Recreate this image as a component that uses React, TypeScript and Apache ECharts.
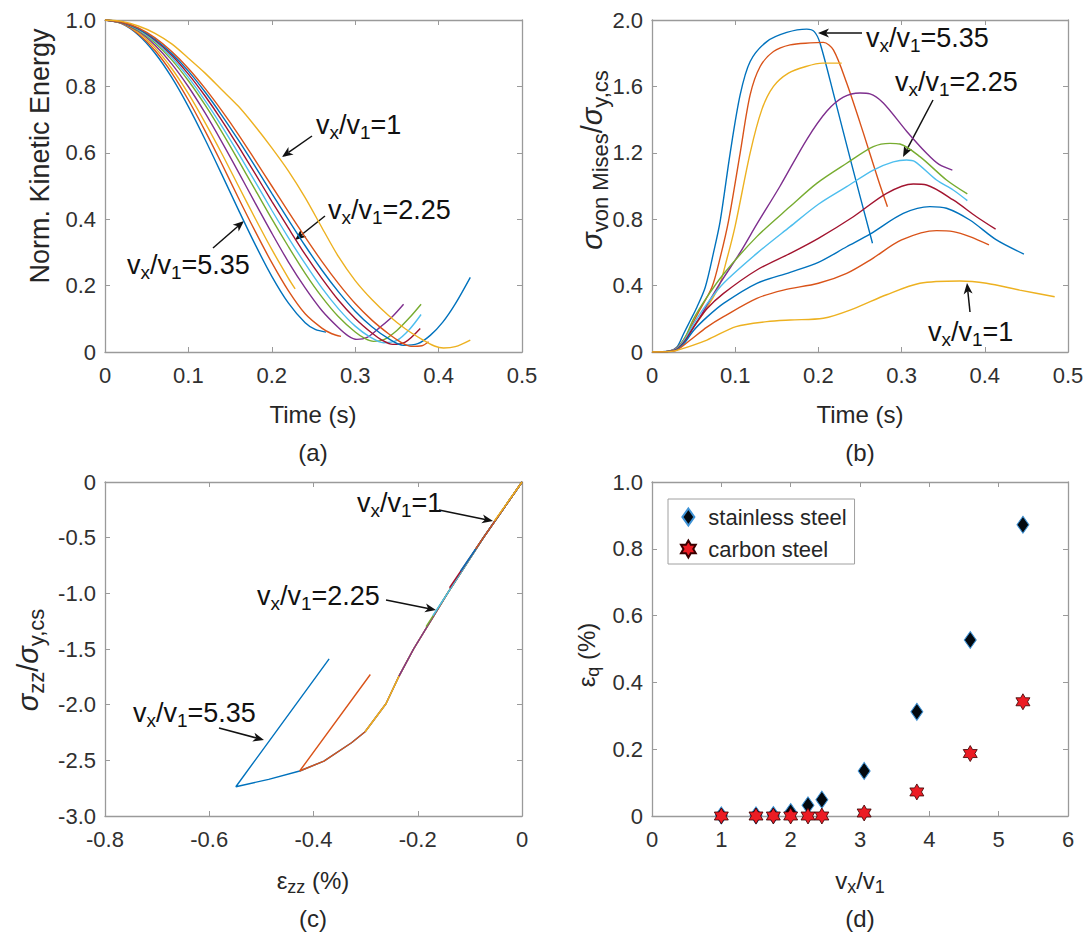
import React, { useEffect, useRef } from 'react';
import * as echarts from 'echarts';

const FONT = "'Liberation Sans', Arial, Helvetica, sans-serif";
const TXT = '#262626';
const AXIS = '#9a9a9a';

// v_x / v_1 ratios, in plotting order, and MATLAB default line colours
const ratios = [5.35, 4.6, 3.82, 3.07, 2.45, 2.25, 2.0, 1.75, 1.5, 1.0];
const colors = ['#0072BD', '#D95319', '#EDB120', '#7E2F8E', '#77AC30', '#4DBEEE', '#A2142F', '#0072BD', '#D95319', '#EDB120'];

// (a) normalised kinetic energy vs time [t (s), KE]
const ke535 = [[0, 1], [0.02, 0.989], [0.04, 0.955], [0.06, 0.9], [0.08, 0.827], [0.1, 0.739], [0.12, 0.64], [0.14, 0.535], [0.16, 0.428], [0.18, 0.324], [0.2, 0.228], [0.22, 0.147], [0.24, 0.088], [0.252, 0.068], [0.265, 0.06]];
const ke460 = [[0, 1], [0.02, 0.99], [0.04, 0.958], [0.06, 0.908], [0.08, 0.841], [0.1, 0.759], [0.12, 0.666], [0.14, 0.567], [0.16, 0.464], [0.18, 0.364], [0.2, 0.269], [0.22, 0.184], [0.24, 0.115], [0.26, 0.072], [0.272, 0.055], [0.283, 0.047]];
const ke382 = [[0, 1], [0.02, 0.99], [0.04, 0.962], [0.06, 0.916], [0.08, 0.854], [0.1, 0.778], [0.12, 0.691], [0.14, 0.598], [0.16, 0.5], [0.18, 0.403], [0.2, 0.309], [0.22, 0.222], [0.228, 0.19]];
const ke307 = [[0, 1], [0.02, 0.991], [0.04, 0.966], [0.06, 0.924], [0.08, 0.868], [0.1, 0.799], [0.12, 0.72], [0.14, 0.633], [0.16, 0.542], [0.18, 0.449], [0.2, 0.358], [0.22, 0.271], [0.24, 0.193], [0.26, 0.125], [0.28, 0.073], [0.292, 0.048], [0.302, 0.038], [0.315, 0.045], [0.33, 0.075], [0.345, 0.108], [0.358, 0.144]];
const ke245 = [[0, 1], [0.02, 0.992], [0.04, 0.969], [0.06, 0.931], [0.08, 0.88], [0.1, 0.817], [0.12, 0.744], [0.14, 0.663], [0.16, 0.577], [0.18, 0.489], [0.2, 0.401], [0.22, 0.317], [0.24, 0.237], [0.26, 0.166], [0.28, 0.106], [0.3, 0.06], [0.312, 0.04], [0.322, 0.032], [0.335, 0.038], [0.35, 0.065], [0.365, 0.103], [0.379, 0.144]];
const ke225 = [[0, 1], [0.02, 0.993], [0.04, 0.971], [0.06, 0.935], [0.08, 0.887], [0.1, 0.827], [0.12, 0.757], [0.14, 0.68], [0.16, 0.598], [0.18, 0.513], [0.2, 0.427], [0.22, 0.344], [0.24, 0.266], [0.26, 0.193], [0.28, 0.13], [0.3, 0.078], [0.318, 0.045], [0.334, 0.028], [0.35, 0.035], [0.365, 0.068], [0.379, 0.113]];
const ke200 = [[0, 1], [0.02, 0.993], [0.04, 0.973], [0.06, 0.939], [0.08, 0.894], [0.1, 0.837], [0.12, 0.771], [0.14, 0.698], [0.16, 0.619], [0.18, 0.537], [0.2, 0.454], [0.22, 0.373], [0.24, 0.294], [0.26, 0.222], [0.28, 0.156], [0.3, 0.101], [0.32, 0.057], [0.332, 0.036], [0.345, 0.023], [0.36, 0.03], [0.378, 0.071]];
const ke175 = [[0, 1], [0.02, 0.994], [0.04, 0.974], [0.06, 0.942], [0.08, 0.899], [0.1, 0.846], [0.12, 0.783], [0.14, 0.713], [0.16, 0.638], [0.18, 0.559], [0.2, 0.478], [0.22, 0.398], [0.24, 0.32], [0.26, 0.247], [0.28, 0.181], [0.3, 0.123], [0.32, 0.076], [0.34, 0.04], [0.358, 0.02], [0.375, 0.025], [0.39, 0.05], [0.405, 0.09], [0.42, 0.145], [0.438, 0.225]];
const ke150 = [[0, 1], [0.02, 0.994], [0.04, 0.976], [0.06, 0.946], [0.08, 0.905], [0.1, 0.854], [0.12, 0.794], [0.14, 0.727], [0.16, 0.655], [0.18, 0.578], [0.2, 0.5], [0.22, 0.422], [0.24, 0.346], [0.26, 0.273], [0.28, 0.206], [0.3, 0.146], [0.32, 0.096], [0.34, 0.055], [0.355, 0.029], [0.367, 0.017], [0.38, 0.019], [0.388, 0.031]];
const ke100 = [[0, 1], [0.02, 0.996], [0.04, 0.982], [0.06, 0.96], [0.08, 0.928], [0.1, 0.885], [0.12, 0.84], [0.14, 0.79], [0.16, 0.74], [0.18, 0.68], [0.2, 0.615], [0.22, 0.545], [0.24, 0.465], [0.26, 0.375], [0.28, 0.287], [0.3, 0.215], [0.32, 0.158], [0.34, 0.11], [0.36, 0.07], [0.38, 0.038], [0.395, 0.018], [0.406, 0.012], [0.42, 0.016], [0.438, 0.036]];
const keCurves = [ke535, ke460, ke382, ke307, ke245, ke225, ke200, ke175, ke150, ke100];

// (b) von Mises stress / yield stress vs time [t (s), ratio]
const vm535 = [[0, 0], [0.02, 0.005], [0.03, 0.03], [0.038, 0.11], [0.046, 0.19], [0.054, 0.27], [0.064, 0.39], [0.074, 0.6], [0.082, 0.79], [0.094, 1.2], [0.106, 1.55], [0.118, 1.75], [0.138, 1.87], [0.162, 1.925], [0.186, 1.945], [0.195, 1.93], [0.202, 1.86], [0.22, 1.52], [0.24, 1.13], [0.265, 0.655]];
const vm460 = [[0, 0], [0.02, 0.004], [0.03, 0.025], [0.04, 0.09], [0.056, 0.24], [0.072, 0.39], [0.082, 0.57], [0.092, 0.79], [0.106, 1.2], [0.118, 1.55], [0.13, 1.72], [0.146, 1.81], [0.166, 1.85], [0.19, 1.862], [0.206, 1.865], [0.218, 1.82], [0.234, 1.62], [0.254, 1.32], [0.272, 1.036], [0.283, 0.875]];
const vm382 = [[0, 0], [0.02, 0.004], [0.03, 0.02], [0.04, 0.08], [0.06, 0.22], [0.08, 0.39], [0.09, 0.56], [0.1, 0.76], [0.118, 1.2], [0.132, 1.46], [0.146, 1.6], [0.164, 1.68], [0.185, 1.72], [0.205, 1.74], [0.228, 1.74]];
const vm307 = [[0, 0], [0.02, 0.004], [0.03, 0.02], [0.04, 0.07], [0.05, 0.15], [0.06, 0.23], [0.08, 0.4], [0.106, 0.6], [0.126, 0.77], [0.154, 1.0], [0.186, 1.28], [0.21, 1.45], [0.23, 1.535], [0.25, 1.56], [0.262, 1.555], [0.278, 1.5], [0.306, 1.33], [0.33, 1.197], [0.345, 1.13], [0.361, 1.096]];
const vm245 = [[0, 0], [0.02, 0.004], [0.03, 0.02], [0.04, 0.09], [0.05, 0.2], [0.066, 0.33], [0.086, 0.47], [0.126, 0.695], [0.166, 0.876], [0.198, 1.016], [0.234, 1.137], [0.266, 1.237], [0.286, 1.257], [0.298, 1.253], [0.322, 1.177], [0.354, 1.036], [0.379, 0.952]];
const vm225 = [[0, 0], [0.02, 0.004], [0.03, 0.02], [0.04, 0.08], [0.05, 0.17], [0.066, 0.29], [0.086, 0.414], [0.126, 0.594], [0.166, 0.755], [0.2, 0.89], [0.234, 0.996], [0.266, 1.096], [0.29, 1.145], [0.306, 1.157], [0.316, 1.147], [0.342, 1.036], [0.362, 0.976], [0.379, 0.912]];
const vm200 = [[0, 0], [0.02, 0.004], [0.03, 0.018], [0.04, 0.07], [0.05, 0.15], [0.066, 0.26], [0.086, 0.353], [0.126, 0.494], [0.166, 0.594], [0.2, 0.685], [0.242, 0.815], [0.282, 0.956], [0.314, 1.012], [0.33, 1.006], [0.362, 0.916], [0.39, 0.815], [0.413, 0.74]];
const vm175 = [[0, 0], [0.02, 0.003], [0.03, 0.015], [0.04, 0.06], [0.05, 0.13], [0.066, 0.21], [0.086, 0.293], [0.126, 0.414], [0.166, 0.48], [0.2, 0.54], [0.234, 0.634], [0.262, 0.71], [0.302, 0.835], [0.334, 0.876], [0.354, 0.866], [0.382, 0.795], [0.414, 0.675], [0.447, 0.59]];
const vm150 = [[0, 0], [0.02, 0.003], [0.03, 0.012], [0.046, 0.072], [0.066, 0.15], [0.086, 0.213], [0.126, 0.323], [0.158, 0.373], [0.2, 0.414], [0.234, 0.474], [0.264, 0.56], [0.3, 0.675], [0.342, 0.731], [0.362, 0.725], [0.382, 0.695], [0.405, 0.645]];
const vm100 = [[0, 0], [0.02, 0.002], [0.03, 0.01], [0.066, 0.072], [0.101, 0.153], [0.138, 0.183], [0.166, 0.193], [0.206, 0.203], [0.242, 0.26], [0.282, 0.345], [0.322, 0.414], [0.37, 0.428], [0.402, 0.414], [0.442, 0.373], [0.484, 0.333]];
const vmCurves = [vm535, vm460, vm382, vm307, vm245, vm225, vm200, vm175, vm150, vm100];

// (c) sigma_zz / sigma_y,cs vs eps_zz (%) [eps, sigma]
const sz535 = [[0, 0], [-0.074, -0.5], [-0.143, -1.0], [-0.208, -1.5], [-0.236, -1.744], [-0.261, -1.992], [-0.301, -2.243], [-0.327, -2.342], [-0.38, -2.507], [-0.4265, -2.596], [-0.486, -2.671], [-0.549, -2.737], [-0.37, -1.588]];
const sz460 = [[0, 0], [-0.074, -0.5], [-0.143, -1.0], [-0.208, -1.5], [-0.236, -1.744], [-0.261, -1.992], [-0.301, -2.243], [-0.327, -2.342], [-0.38, -2.507], [-0.4265, -2.596], [-0.291, -1.729]];
const sz382 = [[0, 0], [-0.074, -0.5], [-0.143, -1.0], [-0.208, -1.5], [-0.236, -1.744], [-0.261, -1.992], [-0.301, -2.243]];
const sz307 = [[0, 0], [-0.074, -0.5], [-0.143, -1.0], [-0.208, -1.5], [-0.236, -1.744]];
const sz245 = [[0, 0], [-0.074, -0.5], [-0.143, -1.0], [-0.184, -1.3]];
const sz225 = [[0, 0], [-0.074, -0.5], [-0.143, -1.0], [-0.171, -1.2]];
const sz200 = [[0, 0], [-0.074, -0.5], [-0.139, -0.95]];
const sz175 = [[0, 0], [-0.074, -0.5], [-0.118, -0.8]];
const sz150 = [[0, 0], [-0.074, -0.5], [-0.089, -0.6]];
const sz100 = [[0, 0], [-0.053, -0.35]];
const szCurves = [sz535, sz460, sz382, sz307, sz245, sz225, sz200, sz175, sz150, sz100];

// (d) quasi-static strain eps_q (%) vs v_x / v_1
const vRatio = [1, 1.5, 1.75, 2, 2.25, 2.45, 3.06, 3.82, 4.59, 5.35];
const epsStainless = [0.002, 0.002, 0.003, 0.012, 0.032, 0.049, 0.135, 0.312, 0.527, 0.872];
const epsCarbon = [0, 0, 0, 0, 0, 0, 0.009, 0.072, 0.187, 0.342];

// layout (pixels)
const GRIDS = [
  { left: 105, top: 20, width: 417, height: 332 },
  { left: 652, top: 20, width: 416, height: 332 },
  { left: 105, top: 482, width: 417, height: 334 },
  { left: 652, top: 482, width: 416, height: 334 },
];

const DIAMOND = 'path://M6 0L12 8.5L6 17L0 8.5Z';
const HEXAGRAM = 'path://M10 0L12.89 5L18.66 5L15.77 10L18.66 15L12.89 15L10 20L7.11 15L1.34 15L4.23 10L1.34 5L7.11 5Z';

const fmt1 = (v: number) => (v === 0 ? '0' : v.toFixed(1));

function axes(g: number, xr: number[], yr: number[], yFmt?: (v: number) => string) {
  const common = () => ({
    type: 'value',
    gridIndex: g,
    axisLine: { show: true, onZero: false, lineStyle: { color: AXIS, width: 1.3 } },
    axisTick: { show: true, inside: true, length: 5, lineStyle: { color: AXIS, width: 1 } },
    splitLine: { show: false },
  });
  const lbl = (margin: number, f?: (v: number) => string) => ({
    show: true, margin, fontSize: 22, color: '#303030', fontFamily: FONT,
    showMinLabel: true, showMaxLabel: true, hideOverlap: false,
    ...(f ? { formatter: f } : {}),
  });
  const xs = [
    { ...common(), position: 'bottom', min: xr[0], max: xr[1], interval: xr[2], axisLabel: lbl(12) },
    { ...common(), position: 'top', min: xr[0], max: xr[1], interval: xr[2], axisLabel: { show: false } },
  ];
  const ys = [
    { ...common(), position: 'left', min: yr[0], max: yr[1], interval: yr[2], axisLabel: lbl(9, yFmt) },
    { ...common(), position: 'right', min: yr[0], max: yr[1], interval: yr[2], axisLabel: { show: false } },
  ];
  return { xs, ys };
}

function rich(main: number, sub: number, drop: number, fill: string) {
  return {
    m: { fontSize: main, fontFamily: FONT, fill, color: fill, lineHeight: main + 4 },
    g: { fontSize: main, fontFamily: FONT, fill, color: fill, fontStyle: 'italic', lineHeight: main + 4 },
    s: { fontSize: sub, fontFamily: FONT, fill, color: fill, lineHeight: sub, padding: [drop, 0, 0, 0] },
  };
}

function label(text: string, x: number, y: number, opts: any = {}) {
  const main = opts.main ?? 24;
  const fill = opts.fill ?? TXT;
  return {
    type: 'text',
    x, y,
    rotation: opts.rotate ? Math.PI / 2 : 0,
    silent: true,
    style: {
      text,
      fontSize: main,
      fontFamily: FONT,
      fill,
      align: opts.align ?? 'center',
      verticalAlign: 'middle',
      rich: rich(main, opts.sub ?? Math.round(main * 0.7), opts.drop ?? Math.round(main * 0.55), fill),
    },
  };
}

function arrow(x1: number, y1: number, x2: number, y2: number) {
  const dx = x2 - x1, dy = y2 - y1;
  const len = Math.hypot(dx, dy);
  const ux = dx / len, uy = dy / len;
  const nx = -uy, ny = ux;
  const L = 11, W = 4.5, N = 3;
  const bx = x2 - ux * L, by = y2 - uy * L;
  const notch = [x2 - ux * (L - N), y2 - uy * (L - N)];
  return [
    { type: 'line', silent: true, shape: { x1, y1, x2: notch[0], y2: notch[1] }, style: { stroke: '#111', lineWidth: 1.5 } },
    {
      type: 'polygon', silent: true,
      shape: { points: [[x2, y2], [bx + nx * W, by + ny * W], notch, [bx - nx * W, by - ny * W]] },
      style: { fill: '#111' },
    },
  ];
}

// annotation: value label, text anchor (left, middle) and arrow start -> tip
const annotations = [
  { v: '1', tx: 316, ty: 125, a: [312, 136, 282, 157] },
  { v: '2.25', tx: 328, ty: 210, a: [325, 216, 295, 240] },
  { v: '5.35', tx: 127, ty: 265, a: [213, 248, 244, 221] },
  { v: '5.35', tx: 866, ty: 38, a: [862, 33, 818, 33] },
  { v: '2.25', tx: 895, ty: 82, a: [933, 100, 903, 157] },
  { v: '1', tx: 928, ty: 332, a: [970, 312, 967, 283] },
  { v: '1', tx: 357, ty: 503, a: [439, 510, 493, 521] },
  { v: '2.25', tx: 257, ty: 596, a: [386, 600, 436, 610] },
  { v: '5.35', tx: 133, ty: 713, a: [219, 728, 264, 740] },
];

function buildOption() {
  const a0 = axes(0, [0, 0.5, 0.1], [0, 1, 0.2], fmt1);
  const a1 = axes(1, [0, 0.5, 0.1], [0, 2, 0.4], fmt1);
  const a2 = axes(2, [-0.8, 0, 0.2], [-3, 0, 0.5], fmt1);
  const a3 = axes(3, [0, 6, 1], [0, 1, 0.2], fmt1);

  const lineSeries = (curves: number[][][], axisIdx: number, smooth: number | boolean) =>
    curves.map((d, i) => ({
      type: 'line',
      name: 'v' + ratios[i] + '_' + axisIdx,
      xAxisIndex: axisIdx,
      yAxisIndex: axisIdx,
      data: d,
      symbol: 'none',
      showSymbol: false,
      smooth,
      silent: true,
      lineStyle: { color: colors[i], width: 1.4 },
      itemStyle: { color: colors[i] },
    }));

  const graphics: any[] = [];
  // axis titles and panel letters
  graphics.push(label('Norm. Kinetic Energy', 40, 156, { rotate: true, main: 27 }));
  graphics.push(label('Time (s)', 313, 414, { main: 24 }));
  graphics.push(label('(a)', 313, 452, { main: 24 }));
  graphics.push(label('{g|σ}{s|von Mises}{m|/}{g|σ}{s|y,cs}', 592, 160, { rotate: true, main: 29, sub: 22, drop: 16 }));
  graphics.push(label('Time (s)', 860, 414, { main: 24 }));
  graphics.push(label('(b)', 860, 452, { main: 24 }));
  graphics.push(label('{g|σ}{s|zz}{m|/}{g|σ}{s|y,cs}', 28, 660, { rotate: true, main: 29, sub: 22, drop: 16 }));
  graphics.push(label('{m|ε}{s|zz}{m| (%)}', 313, 880, { main: 24, sub: 18, drop: 13 }));
  graphics.push(label('(c)', 313, 918, { main: 24 }));
  graphics.push(label('{m|ε}{s|q}{m| (%)}', 586, 655, { rotate: true, main: 24, sub: 18, drop: 13 }));
  graphics.push(label('{m|v}{s|x}{m|/v}{s|1}', 860, 880, { main: 24, sub: 18, drop: 13 }));
  graphics.push(label('(d)', 860, 918, { main: 24 }));

  annotations.forEach((an) => {
    graphics.push(label('{m|v}{s|x}{m|/v}{s|1}{m|=' + an.v + '}', an.tx, an.ty, { main: 27, sub: 19, drop: 14, align: 'left', fill: '#111' }));
    graphics.push(...arrow(an.a[0], an.a[1], an.a[2], an.a[3]));
  });

  return {
    animation: false,
    backgroundColor: '#ffffff',
    textStyle: { fontFamily: FONT },
    grid: GRIDS.map((g) => ({ ...g, containLabel: false, outerBoundsMode: 'none', show: false })),
    xAxis: [...a0.xs, ...a1.xs, ...a2.xs, ...a3.xs],
    yAxis: [...a0.ys, ...a1.ys, ...a2.ys, ...a3.ys],
    legend: {
      show: true,
      left: 668,
      top: 499,
      orient: 'vertical',
      padding: [7, 8, 4, 12],
      itemGap: 10,
      itemWidth: 30,
      itemHeight: 17,
      itemTextGap: 8,
      borderColor: '#a0a0a0',
      borderWidth: 1,
      borderRadius: 0,
      backgroundColor: '#ffffff',
      selectedMode: false,
      textStyle: { fontSize: 22, color: TXT, fontFamily: FONT },
      data: [
        { name: 'stainless steel', icon: DIAMOND },
        { name: 'carbon steel', icon: HEXAGRAM },
      ],
    },
    series: [
      ...lineSeries(keCurves, 0, 0.3),
      ...lineSeries(vmCurves, 2, 0.3),
      ...lineSeries(szCurves, 4, false),
      {
        type: 'scatter',
        name: 'stainless steel',
        xAxisIndex: 6,
        yAxisIndex: 6,
        data: vRatio.map((x, i) => [x, epsStainless[i]]),
        symbol: DIAMOND,
        symbolSize: [12, 17],
        clip: false,
        z: 3,
        itemStyle: { color: '#03090f', borderColor: '#3f93d6', borderWidth: 1, opacity: 1 },
      },
      {
        type: 'scatter',
        name: 'carbon steel',
        xAxisIndex: 6,
        yAxisIndex: 6,
        data: vRatio.map((x, i) => [x, epsCarbon[i]]),
        symbol: HEXAGRAM,
        symbolSize: [14, 16],
        clip: false,
        z: 4,
        itemStyle: { color: '#ec1c24', borderColor: '#3a0000', borderWidth: 0.8, opacity: 1 },
      },
    ],
    graphic: { elements: graphics },
  };
}

export default function App() {
  const ref = useRef<HTMLDivElement>(null);
  useEffect(() => {
    if (!ref.current) return;
    const chart = echarts.init(ref.current, null, { renderer: 'svg', width: 1088, height: 933 });
    chart.setOption(buildOption() as any);
    return () => chart.dispose();
  }, []);
  return (
    <div
      ref={ref}
      style={{ position: 'fixed', left: 0, top: 0, width: 1088, height: 933, background: '#fff' }}
    />
  );
}
